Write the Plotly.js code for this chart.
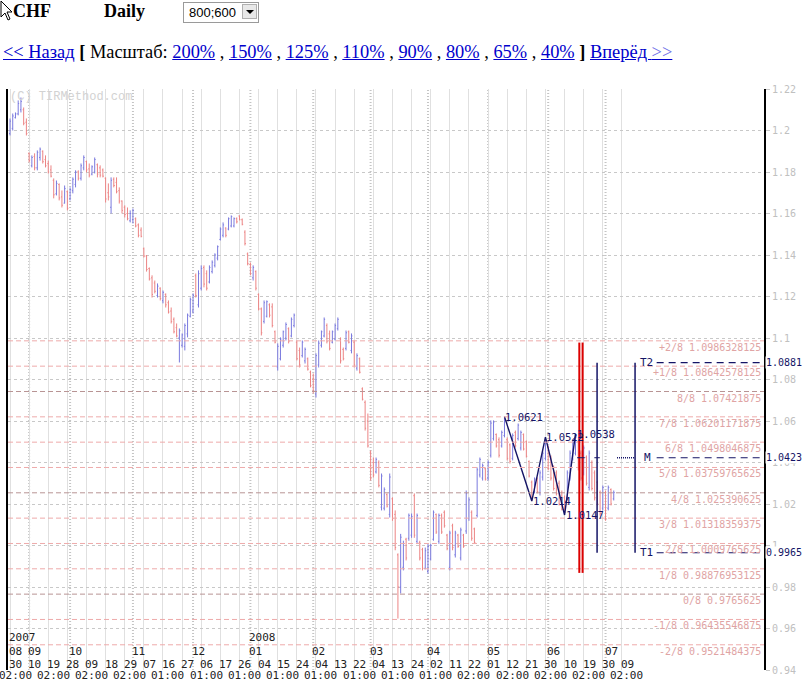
<!DOCTYPE html>
<html><head><meta charset="utf-8">
<script src="https://cdn.plot.ly/plotly-3.0.1.min.js"></script>
<style>
body{margin:0;background:#fff;width:806px;height:684px;overflow:hidden;position:relative;font-family:"Liberation Serif","Times New Roman",serif;}
#chart{position:absolute;left:0;top:0;width:806px;height:684px;}
.hdr{position:absolute;z-index:5;white-space:nowrap;color:#000}
.hdr a{color:#0000cc;text-decoration:underline}
#sel{left:183px;top:2px;width:74px;height:19px;border:1px solid #9a9a9a;background:#fff;font-family:"Liberation Sans",Arial,sans-serif;font-size:13px;}
#sel span.t{position:absolute;left:5px;top:2px}
#sel span.b{position:absolute;right:1px;top:1px;width:15px;height:15px;background:#e8e8e8;border:1px solid #b0b0b0;box-sizing:border-box;}
#sel span.b:after{content:"";position:absolute;left:3px;top:5px;border-left:4px solid transparent;border-right:4px solid transparent;border-top:4px solid #000;}
</style></head><body>
<div id="chart"></div>
<svg class="hdr" style="left:0;top:0" width="14" height="22"><path d="M1 1 L1 17 L5 13 L8 20 L10 19 L7 12 L12 12 Z" fill="#fff" stroke="#000" stroke-width="1"/></svg>
<div class="hdr" style="left:13px;top:1px;font-size:18px;font-weight:bold">CHF</div>
<div class="hdr" style="left:104px;top:1px;font-size:18px;font-weight:bold">Daily</div>
<div class="hdr" id="sel"><span class="t">800;600</span><span class="b"></span></div>
<div class="hdr" style="left:3px;top:42px;font-size:18.4px"><a>&lt;&lt; Назад</a> <b>[</b> Масштаб: <a>200%</a> , <a>150%</a> , <a>125%</a> , <a>110%</a> , <a>90%</a> , <a>80%</a> , <a>65%</a> , <a>40%</a> <b>]</b> <a>Вперёд <span style="color:#7070e8">&gt;&gt;</span></a></div>
<script>
// ---- OHLC data (daily bars, 2007-08-30 .. 2008-07-02) ----
const openP = [
1.1985,1.2010,1.2062,1.2080,1.2100,1.2100,1.2040,1.1890,1.1830,1.1875,
1.1820,1.1870,1.1900,1.1860,1.1840,1.1810,1.1760,1.1695,1.1740,1.1680,
1.1650,1.1705,1.1670,1.1710,1.1740,1.1800,1.1770,1.1820,1.1850,1.1815,
1.1790,1.1800,1.1835,1.1820,1.1810,1.1770,1.1700,1.1630,1.1765,1.1750,
1.1710,1.1660,1.1630,1.1600,1.1565,1.1570,1.1575,1.1545,1.1520,1.1430,1.1395,
1.1335,1.1290,1.1265,1.1205,1.1240,1.1180,1.1210,1.1170,1.1130,1.1090,
1.1050,1.1000,1.0965,1.0960,1.1020,1.1105,1.1130,1.1300,1.1160,1.1240,
1.1340,1.1310,1.1270,1.1320,1.1350,1.1385,1.1475,1.1495,1.1530,1.1525,
1.1540,1.1540,1.1575,1.1588,1.1570,1.1510,1.1405,1.1355,1.1290,1.1320,
1.1210,1.1140,1.1080,1.1105,1.1160,1.1150,1.1030,1.0860,1.0900,1.0965,
1.1000,1.1045,1.1010,1.1060,1.0980,1.0940,1.0915,1.0890,1.0900,1.0835,
1.0800,1.0730,1.0870,1.0965,1.1010,1.1060,1.1020,1.0980,1.0995,1.1045,
1.0995,1.0945,1.0950,1.1030,1.0940,1.0980,1.0855,1.0900,1.0755,1.0690,
1.0600,1.0450,1.0400,1.0355,1.0400,1.0185,1.0180,1.0245,1.0150,1.0225,
1.0150,0.9955,0.9800,0.9895,1.0030,1.0035,1.0050,1.0240,1.0020,1.0015,
0.9980,0.9890,0.9875,0.9935,1.0030,1.0150,1.0020,1.0145,1.0160,1.0050,0.9895,
1.0095,0.9955,1.0050,0.9940,1.0050,1.0070,1.0130,1.0160,1.0080,1.0145,
1.0340,1.0325,1.0370,1.0325,1.0435,1.0515,1.0535,1.0510,1.0480,1.0530,
1.0510,1.0485,1.0420,1.0545,1.0515,1.0470,1.0535,1.0500,1.0405,1.0305,
1.0260,1.0320,1.0255,1.0330,1.0420,1.0475,1.0425,1.0375,1.0350,1.0300,
1.0255,1.0230,1.0230,1.0325,1.0420,1.0445,1.0500,1.0445,1.0350,1.0425,
1.0280,1.0400,1.0350,1.0305,1.0255,1.0180,1.0255,1.0180,1.0270,1.0225];
const highP = [
1.2058,1.2082,1.2087,1.2145,1.2159,1.2111,1.2058,1.1894,1.1880,1.1890,
1.1904,1.1918,1.1904,1.1880,1.1855,1.1832,1.1769,1.1759,1.1745,1.1711,
1.1735,1.1711,1.1726,1.1774,1.1808,1.1808,1.1841,1.1880,1.1855,1.1841,
1.1832,1.1870,1.1841,1.1832,1.1817,1.1774,1.1745,1.1774,1.1774,1.1774,
1.1726,1.1663,1.1639,1.1629,1.1615,1.1624,1.1581,1.1552,1.1533,1.1436,1.1400,
1.1340,1.1302,1.1277,1.1263,1.1244,1.1229,1.1215,1.1181,1.1147,1.1099,
1.1070,1.1046,1.1022,1.1070,1.1118,1.1195,1.1215,1.1311,1.1326,1.1350,
1.1350,1.1326,1.1350,1.1374,1.1408,1.1446,1.1533,1.1557,1.1533,1.1581,
1.1591,1.1581,1.1581,1.1591,1.1576,1.1519,1.1412,1.1364,1.1350,1.1326,
1.1215,1.1147,1.1181,1.1181,1.1167,1.1167,1.1036,1.0974,1.1003,1.1036,
1.1075,1.1051,1.1099,1.1118,1.0988,1.0954,1.0988,1.0954,1.0906,1.0843,
1.0829,1.0926,1.0988,1.1036,1.1099,1.1070,1.1036,1.1036,1.1070,1.1099,
1.1003,1.0954,1.1036,1.1036,1.1022,1.0988,1.0926,1.0906,1.0762,1.0699,
1.0636,1.0458,1.0424,1.0424,1.0410,1.0347,1.0280,1.0251,1.0347,1.0232,
1.0169,0.9962,1.0056,1.0023,1.0037,1.0154,1.0154,1.0251,1.0154,1.0023,
0.9989,0.9990,1.0008,1.0008,1.0169,1.0154,1.0154,1.0154,1.0169,1.0056,1.0071,
1.0105,1.0071,1.0056,1.0086,1.0056,1.0265,1.0232,1.0169,1.0086,1.0376,
1.0424,1.0395,1.0376,1.0410,1.0603,1.0603,1.0540,1.0521,1.0554,1.0621,
1.0521,1.0492,1.0540,1.0554,1.0588,1.0554,1.0540,1.0506,1.0410,1.0313,
1.0328,1.0328,1.0362,1.0458,1.0522,1.0482,1.0434,1.0386,1.0362,1.0313,
1.0265,1.0241,1.0362,1.0458,1.0506,1.0538,1.0506,1.0458,1.0482,1.0434,
1.0458,1.0410,1.0362,1.0313,1.0265,1.0289,1.0265,1.0289,1.0275,1.0265];
const lowP = [
1.1976,1.2000,1.2058,1.2073,1.2087,1.2025,1.1976,1.1846,1.1822,1.1808,
1.1808,1.1855,1.1841,1.1822,1.1793,1.1774,1.1673,1.1687,1.1663,1.1629,
1.1648,1.1615,1.1663,1.1697,1.1726,1.1759,1.1759,1.1808,1.1798,1.1774,
1.1784,1.1793,1.1774,1.1774,1.1774,1.1653,1.1663,1.1600,1.1726,1.1697,
1.1648,1.1600,1.1581,1.1567,1.1557,1.1552,1.1533,1.1485,1.1485,1.1388,1.1320,
1.1277,1.1195,1.1215,1.1195,1.1181,1.1167,1.1147,1.1118,1.1070,1.1022,
1.1003,1.0882,1.0954,1.0940,1.1003,1.1099,1.1118,1.1195,1.1147,1.1229,
1.1244,1.1229,1.1263,1.1311,1.1340,1.1374,1.1470,1.1485,1.1485,1.1519,
1.1533,1.1533,1.1552,1.1567,1.1543,1.1446,1.1350,1.1302,1.1277,1.1229,
1.1133,1.1012,1.1070,1.1099,1.1099,1.1051,1.0974,1.0843,1.0892,1.0954,
1.0988,1.0974,1.1003,1.1051,1.0892,1.0858,1.0906,1.0877,1.0843,1.0762,
1.0733,1.0713,1.0858,1.0954,1.1003,1.0974,1.0940,1.0974,1.0988,1.1036,
1.0877,1.0892,1.0940,1.0974,1.0926,1.0858,1.0843,1.0829,1.0699,1.0554,
1.0472,1.0313,1.0328,1.0347,1.0280,1.0169,1.0169,1.0183,1.0135,1.0119,
0.9977,0.9648,0.9769,0.9880,0.9928,1.0023,1.0037,1.0037,1.0008,0.9928,
0.9880,0.9885,0.9865,0.9928,1.0023,1.0056,1.0008,1.0056,1.0086,0.9977,0.9880,
0.9977,0.9942,0.9989,0.9928,0.9989,1.0056,1.0119,1.0023,1.0008,1.0135,
1.0328,1.0313,1.0313,1.0313,1.0424,1.0506,1.0472,1.0424,1.0472,1.0521,
1.0410,1.0395,1.0410,1.0472,1.0506,1.0458,1.0458,1.0424,1.0328,1.0214,
1.0251,1.0251,1.0241,1.0313,1.0410,1.0362,1.0313,1.0265,1.0241,1.0193,
1.0169,1.0147,1.0217,1.0313,1.0410,1.0434,1.0362,1.0313,1.0338,1.0289,
1.0265,1.0265,1.0217,1.0193,1.0144,1.0169,1.0119,1.0169,1.0193,1.0217];
const closeP = [
1.2045,1.2070,1.2080,1.2130,1.2140,1.2035,1.1985,1.1855,1.1870,1.1820,
1.1895,1.1910,1.1850,1.1830,1.1800,1.1780,1.1690,1.1745,1.1675,1.1640,
1.1720,1.1625,1.1715,1.1765,1.1800,1.1770,1.1830,1.1870,1.1810,1.1785,
1.1825,1.1860,1.1790,1.1785,1.1780,1.1670,1.1680,1.1760,1.1735,1.1705,
1.1660,1.1615,1.1595,1.1575,1.1600,1.1615,1.1540,1.1495,1.1490,1.1395,1.1330,
1.1285,1.1210,1.1225,1.1250,1.1190,1.1220,1.1160,1.1125,1.1080,1.1030,
1.1010,1.1035,1.1015,1.1060,1.1110,1.1185,1.1205,1.1205,1.1310,1.1335,
1.1260,1.1240,1.1340,1.1365,1.1400,1.1440,1.1525,1.1545,1.1495,1.1575,
1.1585,1.1575,1.1560,1.1570,1.1548,1.1455,1.1358,1.1310,1.1340,1.1240,
1.1140,1.1025,1.1170,1.1175,1.1110,1.1060,1.0980,1.0960,1.0995,1.1030,
1.1065,1.0985,1.1090,1.1110,1.0900,1.0870,1.0980,1.0945,1.0850,1.0770,
1.0745,1.0915,1.0975,1.1030,1.1090,1.0985,1.0950,1.1030,1.1060,1.1090,
1.0890,1.0900,1.1025,1.0980,1.1010,1.0870,1.0915,1.0835,1.0705,1.0565,
1.0480,1.0325,1.0340,1.0415,1.0290,1.0335,1.0270,1.0190,1.0330,1.0130,
0.9990,0.9800,1.0040,1.0010,0.9940,1.0145,1.0140,1.0050,1.0145,0.9940,
0.9890,0.9975,0.9995,1.0000,1.0160,1.0065,1.0145,1.0065,1.0095,0.9985,1.0060,
0.9990,1.0060,0.9995,1.0075,0.9995,1.0250,1.0220,1.0035,1.0015,1.0365,
1.0415,1.0385,1.0320,1.0400,1.0590,1.0595,1.0480,1.0435,1.0545,1.0600,
1.0420,1.0405,1.0530,1.0480,1.0580,1.0545,1.0465,1.0430,1.0335,1.0225,
1.0320,1.0260,1.0350,1.0445,1.0500,1.0370,1.0325,1.0275,1.0250,1.0200,
1.0175,1.0160,1.0350,1.0445,1.0495,1.0520,1.0375,1.0325,1.0470,1.0300,
1.0445,1.0275,1.0230,1.0200,1.0155,1.0280,1.0130,1.0280,1.0200,1.0255];

// ---- axis labels ----
const yTickVals = [0.94,0.96,0.98,1.00,1.02,1.04,1.06,1.08,1.10,1.12,1.14,1.16,1.18,1.20,1.22];
const yTickText = ['0.94','0.96','0.98','1','1.02','1.04','1.06','1.08','1.1','1.12','1.14','1.16','1.18','1.2','1.22'];
const dayLabels = ['30','10','19','28','09','18','29','07','16','27','06','17','26','04','15','24','04','13','22','04','13','24','02','11','22','01','12','21','30','10','19','30','09'];
const timeLabels = ['02:00','','02:00','','02:00','','02:00','','01:00','','01:00','','01:00','','01:00','','01:00','','01:00','','01:00','','01:00','','02:00','','02:00','','02:00','','02:00','','02:00'];
const monthLabels = ['08','09','10','11','12','01','02','03','04','05','06','07'];
const monthBar = [0,7,22,45,67,88,111,132,153,175,197,218];
const yearLabels = ['2007','2008'];
const yearBar = [0,88];
const barsPerLabel = 7;

// ---- Murrey math levels ----
const mmValues = [1.0986328125,1.08642578125,1.07421875,1.06201171875,1.0498046875,1.03759765625,1.025390625,1.01318359375,1.0009765625,0.98876953125,0.9765625,0.96435546875,0.9521484375];
const mmLabels = ['+2/8 1.0986328125','+1/8 1.08642578125','8/8 1.07421875','7/8 1.06201171875','6/8 1.0498046875','5/8 1.03759765625','4/8 1.025390625','3/8 1.01318359375','2/8 1.0009765625','1/8 0.98876953125','0/8 0.9765625','-1/8 0.96435546875','-2/8 0.9521484375'];
const mmMajor = [false,false,true,false,false,false,true,false,false,false,true,false,false];

// ---- zigzag swing points ----
const zzBar = [181,191,196,203,207];
const zzPrice = [1.0621,1.0214,1.0522,1.0147,1.0538];
const zzText = ['1.0621','1.0214','1.0522','1.0147','1.0538'];

// ---- targets ----
const targetNames = ['T2','M','T1'];
const targetPrice = [1.0881,1.0423,0.9965];
const targetText = ['1.0881','1.0423','0.9965'];
const redRange = [0.9868,1.0978];
const redBars = [208.4,209.6];
const navyBars = [214.9,228.8];
const mDotFrom = 222.2;

const xIdx = openP.map((_,i)=>i);
const NAVY = '#141466';
const MONO = 'DejaVu Sans Mono, Liberation Mono, monospace';

const traces = [{
  type:'ohlc', x:xIdx, open:openP, high:highP, low:lowP, close:closeP,
  increasing:{line:{color:'#7a7ade',width:1}},
  decreasing:{line:{color:'#ec8484',width:1}},
  tickwidth:0.35, hoverinfo:'skip'
},{
  type:'scatter', mode:'lines', x:zzBar, y:zzPrice,
  line:{color:NAVY,width:1.4}, hoverinfo:'skip'
}];

const shapes = [];
const annotations = [];
monthBar.slice(1).forEach(b=>{
  shapes.push({type:'line',xref:'x',yref:'paper',x0:b,x1:b,y0:0,y1:1,line:{color:'#c4c4c4',width:2,dash:'1px,2px'},layer:'below'});
});
mmValues.forEach((v,i)=>{
  shapes.push({type:'line',xref:'paper',yref:'y',x0:0,x1:1,y0:v,y1:v,line:{color:mmMajor[i]?'#b89494':'#eeaaaa',width:1,dash:'5px,3px'}});
  annotations.push({xref:'paper',yref:'y',x:1,y:v,xanchor:'right',yanchor:'top',xshift:-1,yshift:1,showarrow:false,text:mmLabels[i],font:{family:MONO,size:10,color:'#e0a4a4'}});
});
redBars.forEach(b=>{
  shapes.push({type:'line',xref:'x',yref:'y',x0:b,x1:b,y0:redRange[0],y1:redRange[1],line:{color:'#dd0000',width:2}});
});
navyBars.forEach(b=>{
  shapes.push({type:'line',xref:'x',yref:'y',x0:b,x1:b,y0:targetPrice[2],y1:targetPrice[0],line:{color:NAVY,width:1.5}});
});
shapes.push({type:'line',xref:'x',yref:'y',x0:redBars[0]-0.8,x1:redBars[1]+0.8,y0:targetPrice[1],y1:targetPrice[1],line:{color:NAVY,width:1}});
shapes.push({type:'line',xref:'x',yref:'y',x0:navyBars[0]-1,x1:navyBars[0]+1,y0:targetPrice[1],y1:targetPrice[1],line:{color:NAVY,width:1}});
shapes.push({type:'line',xref:'x',yref:'y',x0:mDotFrom,x1:navyBars[1],y0:targetPrice[1],y1:targetPrice[1],line:{color:NAVY,width:1.5,dash:'1px,1px'}});
targetPrice.forEach((v,i)=>{
  shapes.push({type:'line',xref:'paper',yref:'y',x0:0.858,x1:0.999,y0:v,y1:v,line:{color:NAVY,width:1.2,dash:'7px,5px'}});
  annotations.push({xref:'x',yref:'y',x:navyBars[1],y:v,xanchor:'left',yanchor:'middle',xshift:(i===1?7:3),showarrow:false,text:targetNames[i],font:{family:MONO,size:11,color:NAVY}});
  annotations.push({xref:'paper',yref:'y',x:1,y:v,xanchor:'left',yanchor:'middle',xshift:1,showarrow:false,bgcolor:'#fff',borderpad:0,text:targetText[i],font:{family:MONO,size:10,color:NAVY}});
});
zzBar.forEach((b,i)=>{
  annotations.push({xref:'x',yref:'y',x:b,y:zzPrice[i],xanchor:'left',yanchor:'middle',xshift:-1,showarrow:false,text:zzText[i],font:{family:MONO,size:10.5,color:NAVY}});
});
annotations.push({xref:'paper',yref:'paper',x:0,y:1,xanchor:'left',yanchor:'top',xshift:0,yshift:1,showarrow:false,text:'(C) TIRMethod.com',font:{family:'Liberation Mono, monospace',size:12,color:'#d2d2d2'}});
const yRow = {year:0.0551, month:0.0318, day:0.0103, time:-0.0103};
const bottomFont = {family:MONO,size:11,color:'#222'};
dayLabels.forEach((t,k)=>{
  annotations.push({xref:'x',yref:'paper',x:k*barsPerLabel,y:yRow.day,xanchor:'left',yanchor:'middle',xshift:-2,showarrow:false,borderpad:0,text:t,font:bottomFont});
  if(timeLabels[k]) annotations.push({xref:'x',yref:'paper',x:k*barsPerLabel,y:yRow.time,xanchor:'center',yanchor:'middle',xshift:5,showarrow:false,borderpad:0,text:timeLabels[k],font:bottomFont});
});
monthLabels.forEach((t,i)=>{
  annotations.push({xref:'x',yref:'paper',x:monthBar[i],y:yRow.month,xanchor:'left',yanchor:'middle',xshift:-2,showarrow:false,borderpad:0,text:t,font:bottomFont});
});
yearLabels.forEach((t,i)=>{
  annotations.push({xref:'x',yref:'paper',x:yearBar[i],y:yRow.year,xanchor:'left',yanchor:'middle',xshift:-2,showarrow:false,borderpad:0,text:t,font:bottomFont});
});

const weekTicks = dayLabels.map((_,k)=>k*barsPerLabel);

const layout = {
  width:806, height:684,
  margin:{l:8,r:42,t:89,b:14,pad:0},
  paper_bgcolor:'#fff', plot_bgcolor:'#fff',
  showlegend:false, dragmode:false,
  xaxis:{type:'linear',range:[-0.732,276.0],rangeslider:{visible:false},showticklabels:false,ticks:'',
         tickvals:weekTicks,showgrid:true,gridcolor:'#e0e0e0',gridwidth:1,zeroline:false,showline:false},
  yaxis:{side:'right',range:[0.94,1.22],tickvals:yTickVals,ticktext:yTickText,ticks:'outside',ticklen:4,tickcolor:'#c8c8c8',
         tickfont:{family:MONO,size:10,color:'#c0c0c0'},showgrid:true,gridcolor:'#c8c8c8',griddash:'dot',
         showline:true,linecolor:'#000',linewidth:2,mirror:true,zeroline:false},
  shapes:shapes, annotations:annotations
};
Plotly.newPlot('chart',traces,layout,{staticPlot:true,displayModeBar:false});
</script>
</body></html>
